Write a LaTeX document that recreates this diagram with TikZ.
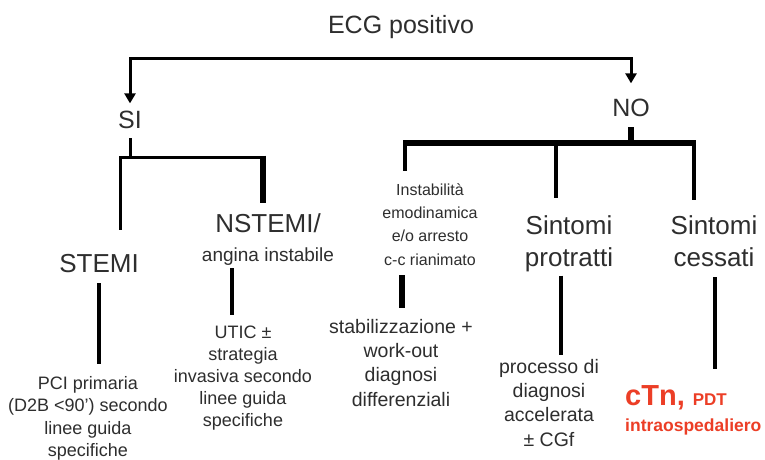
\documentclass[tikz,border=0pt]{standalone}
\usepackage{fontspec}
\setmainfont{Liberation Sans}
\usetikzlibrary{arrows.meta}
\newcommand{\fsz}[2]{\fontsize{#1}{#2}\selectfont}
\definecolor{ctnred}{RGB}{236,62,38}

\begin{document}
\begin{tikzpicture}[
  x=1pt, y=-1pt,
  lbl/.style={inner sep=0pt, align=center, text=black!82},
  head/.style={lbl, font=\fsz{25}{30}},
  big/.style={lbl, font=\fsz{26}{32}},
  small/.style={lbl, font=\fsz{18}{22.5}},
  mid/.style={lbl, font=\fsz{19.5}{24.3}},
  tiny/.style={lbl, font=\fsz{16}{23.3}},
  red/.style={lbl, text=ctnred},
  bar/.style={line width=3pt},
  midbar/.style={line width=3.5pt},
  thickbar/.style={line width=5.5pt},
  arrow/.style={bar, -{Triangle[length=10pt, width=11pt]}}
]
\fill[white] (0,0) rectangle (765,459);
\useasboundingbox (0,0) rectangle (765,459);

% livello superiore
\node[head, anchor=base] (ecg) at (401,33) {ECG positivo};
\node[head, anchor=base] (si) at (130,128) {SI};
\node[head, anchor=base] (no) at (631,116) {NO};

% ramo SI (base = ultima riga)
\node[big, anchor=base] (stemi) at (99,272) {STEMI};
\node[big, anchor=base] (nstemi) at (268,232) {NSTEMI/};
\node[lbl, font=\fsz{19}{23}, anchor=base] (angina) at (268,261) {angina instabile};
\node[small, anchor=base] (pci) at (88,456.5) {PCI primaria\\(D2B <90') secondo\\linee guida\\specifiche};
\node[small, anchor=base, font=\fsz{18}{22}] (utic) at (243,426) {UTIC ±\\strategia\\invasiva secondo\\linee guida\\specifiche};

% ramo NO
\node[tiny, anchor=base] (instab) at (430,265) {Instabilità\\emodinamica\\e/o arresto\\c-c rianimato};
\node[big, anchor=base] (sintp) at (569,266) {Sintomi\\protratti};
\node[big, anchor=base] (sintc) at (714,266) {Sintomi\\cessati};
\node[mid, anchor=base] (stab) at (401,406) {stabilizzazione +\\work-out\\diagnosi\\differenziali};
\node[mid, anchor=base] (proc) at (549,446) {processo di\\diagnosi\\accelerata\\± CGf};
\node[red, font=\bfseries\fsz{29}{30}, anchor=base west] (ctn) at (625,405) {cTn, {\fsz{17}{18}PDT}};
\node[red, font=\bfseries\fsz{17.5}{20}, anchor=base west] (osp) at (625,431) {intraospedaliero};

% punti di snodo
\coordinate (fork) at (381,58);
\coordinate (siBarL) at (120,157);
\coordinate (siBarR) at (263,157);
\coordinate (noBarL) at (405,143);
\coordinate (noBarM) at (556,143);
\coordinate (noBarR) at (694,143);
\coordinate (uticTop) at (232,315);
\coordinate (stabTop) at (402,308);
\coordinate (procTop) at (561,355);
\coordinate (ctnTop) at (715,369);

% frecce iniziali
\draw[arrow, shorten >=7pt] (fork) -| (si.north);
\draw[arrow, shorten >=15pt] (fork) -| (no.north);

% ramo SI
\draw[bar, shorten <=10pt] (si.south) -- (si.south |- siBarL);
\draw[bar, shorten >=23.5pt] (siBarR) -- (siBarL) -- (siBarL |- stemi.north);
\draw[thickbar, line width=6pt, shorten >=10pt] ([yshift=1.5pt]siBarR) -- (siBarR |- nstemi.north);
\draw[midbar, shorten <=11pt, shorten >=12pt] (stemi.south) -- (stemi.south |- pci.north);
\draw[thickbar, line width=4pt, shorten <=3pt] (uticTop |- angina.south) -- (uticTop);

% ramo NO
\draw[thickbar, shorten <=11pt] (no.south) -- (no.south |- noBarL);
\draw[thickbar, shorten <=-1.75pt, shorten >=-1.75pt] (noBarL) -- (noBarR);
\draw[midbar, shorten >=12pt] (noBarL) -- (noBarL |- instab.north);
\draw[midbar, shorten >=17pt] (noBarM) -- (noBarM |- sintp.north);
\draw[midbar, shorten >=15pt] (noBarR) -- (noBarR |- sintc.north);
\draw[thickbar, line width=6pt, shorten <=10pt] (stabTop |- instab.south) -- (stabTop);
\draw[midbar, shorten <=4pt] (procTop |- sintp.south) -- (procTop);
\draw[midbar, shorten <=11pt] (ctnTop |- sintc.south) -- (ctnTop);
\end{tikzpicture}
\end{document}
